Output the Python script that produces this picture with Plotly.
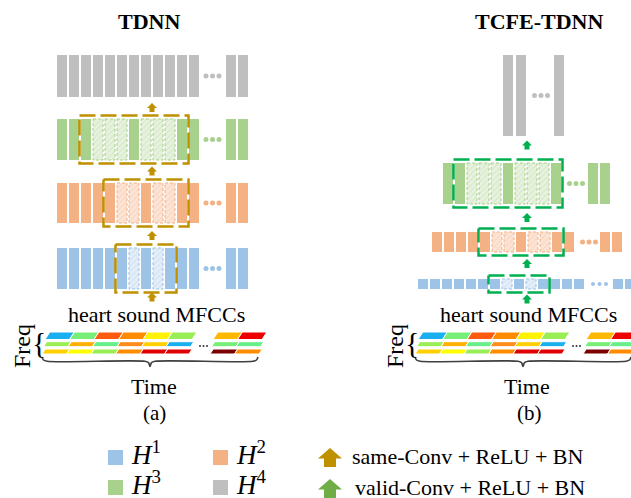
import plotly.graph_objects as go

# ---------------- data ----------------
layer_names = ["H1", "H2", "H3", "H4"]
layer_colors = ["#9DC3E6", "#F4B183", "#A9D18E", "#BFBFBF"]
layer_pale = ["#E4EEF8", "#FBE4D6", "#E6F1DE", "#EEEEEE"]

# TDNN: bars before "...", bars after, hatched (context) bar indices, boxed span
tdnn_counts = [12, 12, 12, 12]
tdnn_tail = [2, 2, 2, 2]
tdnn_hatched = [[6, 8], [5, 6, 8, 9], [3, 4, 5, 7, 8, 9], []]
tdnn_box = [(5, 9), (4, 10), (2, 10), None]

# TCFE-TDNN
tcfe_counts = [14, 12, 10, 2]
tcfe_tail = [2, 2, 2, 1]
tcfe_hatched = [[7, 9], [5, 6, 8, 9], [2, 3, 4, 6, 7, 8], []]
tcfe_box = [(6, 10), (4, 10), (1, 9), None]

# MFCC colour cells (top row -> bottom row), first group / group after "..."
mfcc_main = [
    ["#1AAFEF", "#77EE77", "#FF5B0F", "#FF8C00", "#FFF200", "#99EE55"],
    ["#99EE55", "#FFB000", "#66EE88", "#FF8C1A", "#FFD000", "#1AAFEF"],
    ["#FFD000", "#FFFF00", "#99EE55", "#FF8C00", "#E00000", "#E00000"],
]
mfcc_after = [
    ["#FFB800", "#EE0000"],
    ["#77EE77", "#66EE88"],
    ["#7A0000", "#FF8C00"],
]

panel_titles = ["<b>TDNN</b>", "<b>TCFE-TDNN</b>"]
panel_tags = ["(a)", "(b)"]
input_label = "heart sound MFCCs"
legend_layers = ["<i>H</i><sup>1</sup>", "<i>H</i><sup>2</sup>",
                 "<i>H</i><sup>3</sup>", "<i>H</i><sup>4</sup>"]
legend_ops = ["same-Conv + ReLU + BN", "valid-Conv + ReLU + BN"]

GOLD = "#BF9000"
GREEN = "#00B050"
LEG_GREEN = "#70AD47"
FONT = "Liberation Serif"

# ---------------- layout geometry ----------------
W, H = 631, 498
BW = 10  # bar width

# per layer: x start, pitch, tail x start, dots center x, top y, height
tdnn_geo = [
    dict(x0=57, p=12, tx=226, dx=212.5, top=248, h=41),
    dict(x0=57, p=12, tx=226, dx=212.5, top=183, h=40),
    dict(x0=57, p=12, tx=226, dx=212.5, top=119, h=41),
    dict(x0=57, p=12, tx=226, dx=212.5, top=55, h=42),
]
tcfe_geo = [
    dict(x0=418, p=12, tx=613, dx=599.5, top=279, h=10),
    dict(x0=432, p=12, tx=600, dx=589, top=232, h=20),
    dict(x0=443, p=12, tx=588, dx=576, top=163, h=41),
    dict(x0=503, p=13, tx=554, dx=541, top=55, h=81),
]
tdnn_arrows = dict(x=152, y=[297, 235.5, 171, 107.5])
tcfe_arrows = dict(x=527, y=[299, 263.5, 217.5, 145])

fig = go.Figure()


def add_poly(xs, ys, fill, line_color=None, lw=0):
    fig.add_trace(go.Scatter(
        x=xs, y=ys, mode="lines", fill="toself", fillcolor=fill,
        line=dict(color=line_color or fill, width=lw), hoverinfo="skip"))


def add_layer(color, pale, n, ntail, hatched, box, g, box_color):
    xs = [g["x0"] + i * g["p"] for i in range(n)]
    tails = [g["tx"] + i * g["p"] for i in range(ntail)]
    solid = [x for i, x in enumerate(xs) if i not in hatched] + tails
    hat = [xs[i] for i in hatched]
    fig.add_trace(go.Bar(
        x=[x + BW / 2 for x in solid], y=[g["h"]] * len(solid),
        base=[g["top"]] * len(solid), width=BW,
        marker=dict(color=color, line=dict(width=0)), hoverinfo="skip"))
    if hat:
        fig.add_trace(go.Bar(
            x=[x + BW / 2 for x in hat], y=[g["h"]] * len(hat),
            base=[g["top"]] * len(hat), width=BW,
            marker=dict(color=pale, line=dict(width=0),
                        pattern=dict(shape="/", fgcolor=color, bgcolor=pale,
                                     size=4, solidity=0.2, fgopacity=0.5)),
            hoverinfo="skip"))
        bx, by = [], []
        for x in hat:
            bx += [x, x + BW, x + BW, x, x, None]
            by += [g["top"], g["top"], g["top"] + g["h"], g["top"] + g["h"], g["top"], None]
        fig.add_trace(go.Scatter(x=bx, y=by, mode="lines",
                                 line=dict(color=color, width=1, dash="3px,2px"),
                                 hoverinfo="skip"))
    # ellipsis dots
    cy = g["top"] + g["h"] / 2
    fig.add_trace(go.Scatter(
        x=[g["dx"] - 6.5, g["dx"], g["dx"] + 6.5], y=[cy] * 3, mode="markers",
        marker=dict(color=color, size=5 if g["h"] > 12 else 4), hoverinfo="skip"))
    if box:
        a, b = box
        x0 = xs[a] - 1.5
        x1 = xs[b] + BW + 1.5
        y0 = g["top"] - 3.5
        y1 = g["top"] + g["h"] + 3.5
        fig.add_trace(go.Scatter(
            x=[x0, x1, x1, x0, x0], y=[y0, y0, y1, y1, y0], mode="lines",
            line=dict(color=box_color, width=2.5, dash="16px,5px"),
            hoverinfo="skip"))


def add_arrow(cx, cy, w, h, color):
    hh = 0.55 * h
    sw = 0.5 * w
    t = cy - h / 2
    xs = [cx, cx + w / 2, cx + sw / 2, cx + sw / 2, cx - sw / 2, cx - sw / 2, cx - w / 2, cx]
    ys = [t, t + hh, t + hh, cy + h / 2, cy + h / 2, t + hh, t + hh, t]
    add_poly(xs, ys, color)


def add_mfcc(x_start):
    rows = [(332, 339.5), (341.7, 346.7), (349, 354)]
    offsets = [0, -1.5, -3]
    cw = 24.5
    for r, (ytop, ybot) in enumerate(rows):
        sk = 0.65 * (ybot - ytop)
        for grp, (colors, gx) in enumerate([(mfcc_main[r], x_start),
                                             (mfcc_after[r], x_start + 168)]):
            for i, c in enumerate(colors):
                x = gx + offsets[r] + i * cw
                add_poly([x, x + cw, x + cw + sk, x + sk, x],
                         [ybot, ybot, ytop, ytop, ybot], c, "white", 1)
    # small ellipsis
    fig.add_trace(go.Scatter(
        x=[x_start + 155, x_start + 158.5, x_start + 162], y=[346] * 3,
        mode="markers", marker=dict(color="#333333", size=2), hoverinfo="skip"))
    # bottom brace
    x0, x1 = x_start - 3, x_start + 213
    xc = (x0 + x1) / 2
    bx = [x0, x0 + 1.5, x0 + 5, xc - 5, xc - 1.5, xc, xc + 1.5, xc + 5, x1 - 5, x1 - 1.5, x1]
    byy = [357, 360, 361.3, 361.3, 362.6, 366.5, 362.6, 361.3, 361.3, 360, 357]
    fig.add_trace(go.Scatter(x=bx, y=byy, mode="lines",
                             line=dict(color="#404040", width=1.6, shape="spline"),
                             hoverinfo="skip"))
    return xc


def text(x, y, s, size=22, **kw):
    fig.add_annotation(x=x, y=y, xref="x", yref="y", text=s, showarrow=False,
                       font=dict(family=FONT, size=size, color="black"), **kw)


# ---------------- panels ----------------
for li in range(4):
    add_layer(layer_colors[li], layer_pale[li], tdnn_counts[li], tdnn_tail[li],
              tdnn_hatched[li], tdnn_box[li], tdnn_geo[li], GOLD)
    add_layer(layer_colors[li], layer_pale[li], tcfe_counts[li], tcfe_tail[li],
              tcfe_hatched[li], tcfe_box[li], tcfe_geo[li], GREEN)

for y in tdnn_arrows["y"]:
    add_arrow(tdnn_arrows["x"], y, 10, 9, GOLD)
for y in tcfe_arrows["y"]:
    add_arrow(tcfe_arrows["x"], y, 10, 9, GREEN)

for pi, xs in enumerate([45, 418]):
    xc = add_mfcc(xs)
    text(xc + 4, 386, "Time")
    text(xs - 6, 342, "{", size=30)
    text(xs - 23, 346, "Freq", size=24, textangle=-90)

text(148.5, 21, panel_titles[0])
text(539, 21, panel_titles[1])
text(156, 314, input_label)
text(528.5, 314, input_label)
text(154, 413, panel_tags[0], size=21)
text(529, 413, panel_tags[1], size=21)

# ---------------- legend ----------------
leg_pos = [(108, 450), (213, 450), (108, 480), (213, 480)]
for (lx, ly), c, lab in zip(leg_pos, layer_colors, legend_layers):
    add_poly([lx, lx + 15, lx + 15, lx, lx], [ly, ly, ly + 15, ly + 15, ly], c)
    text(lx + 21, ly + 3, lab, size=27, xanchor="left")

add_arrow(330, 457.5, 24, 19, GOLD)
add_arrow(330, 488.5, 24, 19, LEG_GREEN)
text(350, 456.5, legend_ops[0], size=22, xanchor="left")
text(353, 487.5, legend_ops[1], size=22, xanchor="left")

fig.update_layout(
    width=W, height=H, margin=dict(l=0, r=0, t=0, b=0),
    paper_bgcolor="white", plot_bgcolor="white", showlegend=False,
    barmode="overlay",
    xaxis=dict(range=[0, W], visible=False, fixedrange=True),
    yaxis=dict(range=[H, 0], visible=False, fixedrange=True),
)
fig.write_html("out.html", config={"displayModeBar": False})
